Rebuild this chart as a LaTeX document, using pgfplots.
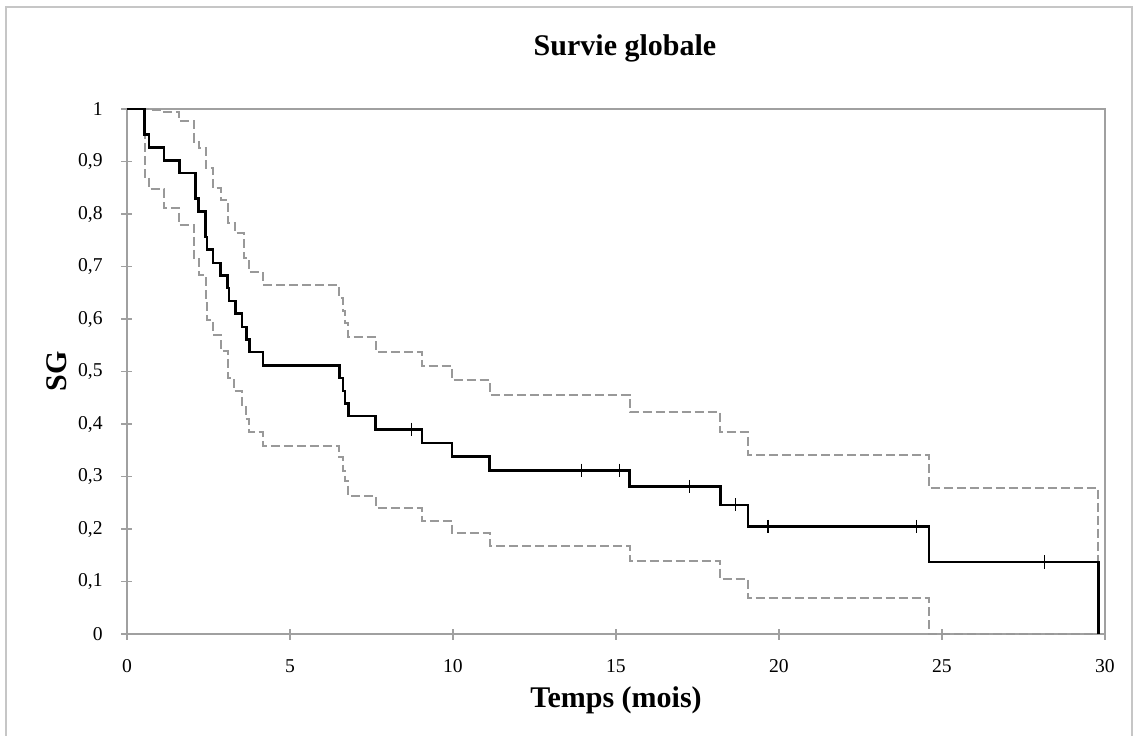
\documentclass[border=0pt]{standalone}
\usepackage{pgfplots}
\pgfplotsset{compat=1.18}
\usepackage{fontspec}
\setmainfont{Liberation Serif}

\definecolor{axisgray}{HTML}{A0A0A0}
\definecolor{cigray}{HTML}{999999}

\begin{document}
\begin{tikzpicture}
\useasboundingbox (-63.5pt,-50.5pt) rectangle (505pt,317pt);
\draw[gray!45, line width=0.6pt] (-60.5pt,-53pt) -- (-60.5pt,313.5pt) -- (502.5pt,313.5pt) -- (502.5pt,-53pt);
\begin{axis}[
    at={(0,0)}, anchor=south west,
    scale only axis,
    width=489pt, height=262.5pt,
    xmin=0, xmax=30, ymin=0, ymax=1,
    xtick={0,5,...,30},
    ytick={0,0.1,...,1},
    xtick pos=lower, ytick pos=left,
    axis line style={axisgray, line width=0.7pt},
    tick style={axisgray, line width=0.7pt},
    tick align=center,
    major tick length=5.5pt,
    /pgf/number format/assume math mode=true,
    /pgf/number format/use comma,
    /pgf/number format/fixed,
    /pgf/number format/precision=1,
    tick label style={font=\fontsize{9.8}{11}\selectfont},
    xticklabel style={anchor=base, yshift=-16.5pt},
    yticklabel style={anchor=east, inner sep=0pt, xshift=-9.2pt},
    title={Survie globale},
    title style={at={(axis description cs:0.5,1)}, anchor=base, yshift=20.5pt, xshift=4.5pt,
        font=\bfseries\fontsize{15}{17}\selectfont},
    xlabel={Temps (mois)},
    every axis x label/.style={at={(axis description cs:0.5,0)}, anchor=base, yshift=-36.5pt,
        font=\bfseries\fontsize{15}{17}\selectfont},
    ylabel={SG},
    every axis y label/.style={at={(axis description cs:-0.0716,0.5)}, rotate=90, anchor=center,
        font=\bfseries\fontsize{15}{17}\selectfont},
    clip=false,
]
% borne superieure IC
\addplot[const plot, cigray, line width=1pt, dash pattern=on 4.5pt off 2pt] coordinates {
    (0,1) (0.68,0.998) (1.13,0.994) (1.61,0.978) (2.06,0.938) (2.20,0.925)
    (2.41,0.887) (2.64,0.849) (2.87,0.827) (3.09,0.782) (3.30,0.763)
    (3.58,0.716) (3.74,0.690) (4.16,0.665) (6.51,0.640) (6.63,0.615)
    (6.69,0.592) (6.79,0.565) (7.63,0.538) (9.05,0.510) (9.97,0.483)
    (11.12,0.455) (15.42,0.422) (18.20,0.384) (19.05,0.341) (24.60,0.278)
    (29.80,0)
};
% borne inferieure IC
\addplot[const plot, cigray, line width=1pt, dash pattern=on 4.5pt off 2pt] coordinates {
    (0,1) (0.54,0.870) (0.68,0.847) (1.13,0.811) (1.61,0.779) (2.06,0.716)
    (2.20,0.684) (2.41,0.630) (2.46,0.598) (2.64,0.570) (2.87,0.539)
    (3.10,0.487) (3.27,0.462) (3.53,0.433) (3.64,0.409) (3.75,0.384)
    (4.16,0.358) (6.51,0.338) (6.63,0.310) (6.69,0.291) (6.79,0.263)
    (7.63,0.240) (9.05,0.215) (9.97,0.192) (11.12,0.168) (15.42,0.139)
    (18.20,0.104) (19.05,0.068) (24.60,0) (29.80,0)
};
% Kaplan-Meier
\addplot[const plot, black, line width=1.3pt] coordinates {
    (0,1) (0.54,0.951) (0.68,0.927) (1.13,0.902) (1.61,0.878) (2.10,0.829)
    (2.20,0.805) (2.41,0.756) (2.46,0.732) (2.64,0.707) (2.87,0.683)
    (3.09,0.659) (3.13,0.634) (3.33,0.610) (3.53,0.585) (3.66,0.561)
    (3.76,0.537) (4.17,0.512) (6.51,0.488) (6.63,0.463) (6.69,0.439)
    (6.79,0.415) (7.63,0.390) (9.05,0.364) (9.97,0.338) (11.12,0.312)
    (15.42,0.281) (18.20,0.246) (19.05,0.205) (24.60,0.137) (29.80,0)
};
% censures
\addplot[only marks, mark=+, mark size=3.3pt, black, mark options={line width=0.6pt}] coordinates {
    (8.72,0.390) (13.94,0.312) (15.11,0.312) (17.25,0.281)
    (18.66,0.246) (19.66,0.205) (24.21,0.205) (28.15,0.137)
};
\end{axis}
\end{tikzpicture}
\end{document}
